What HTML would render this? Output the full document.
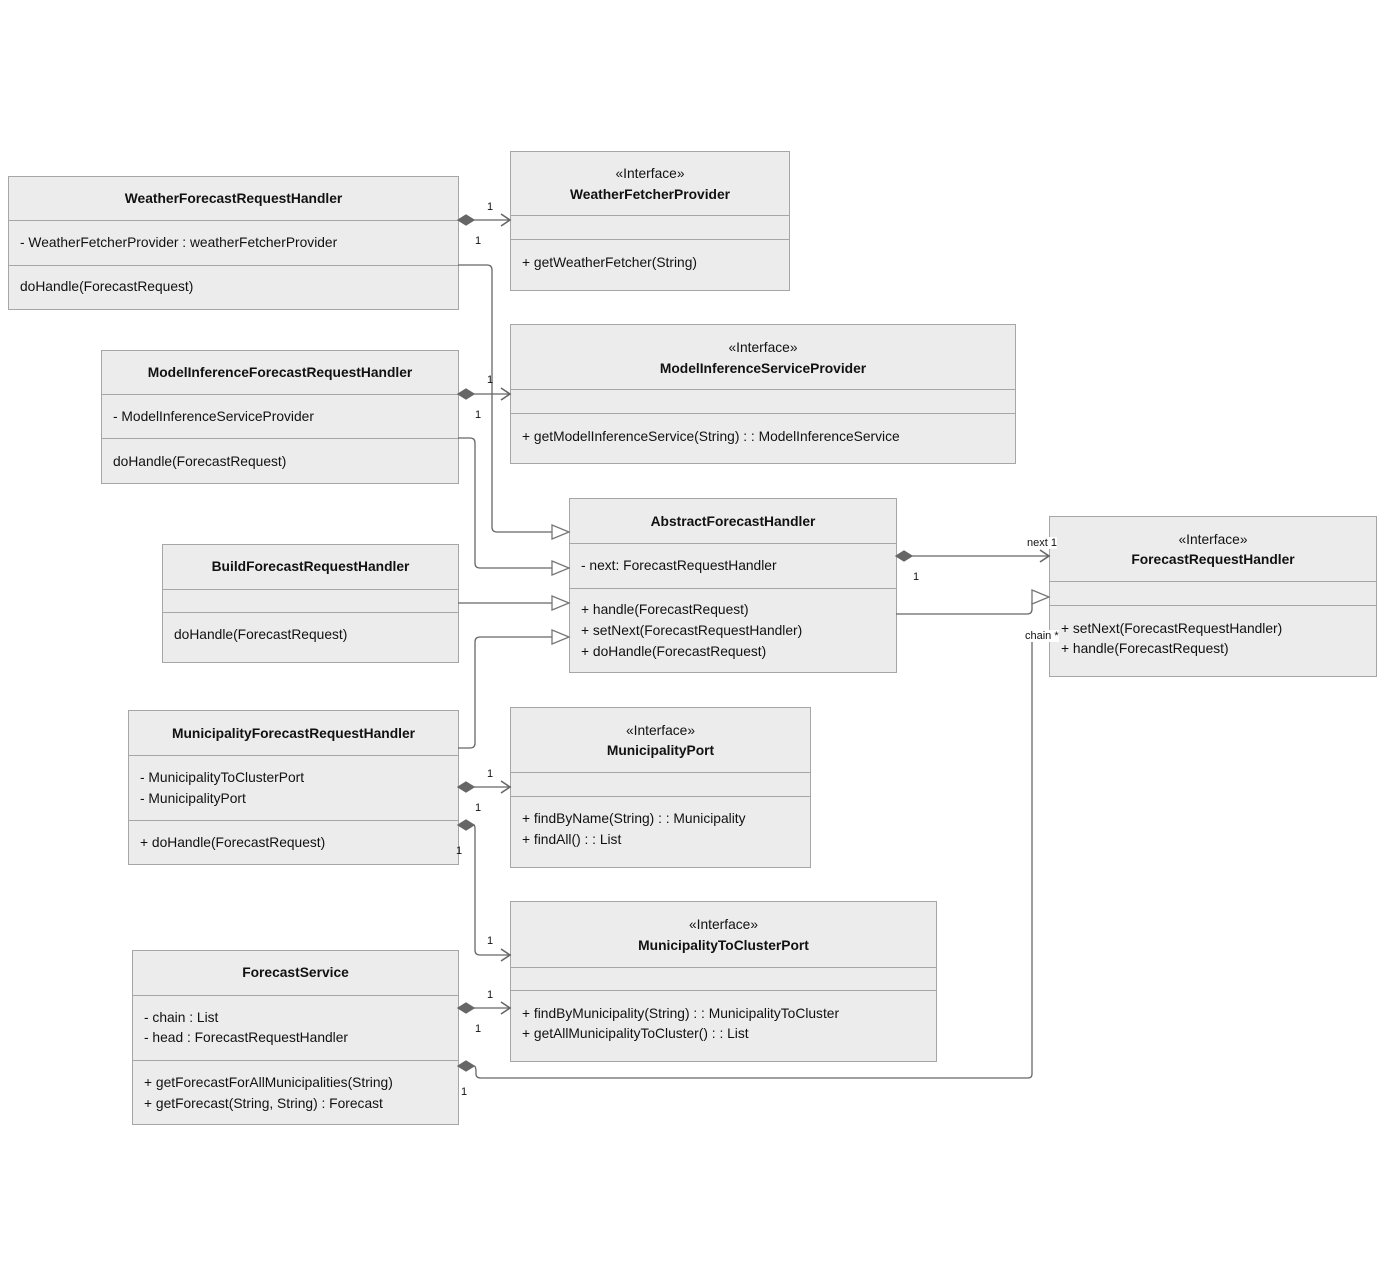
<!DOCTYPE html>
<html><head><meta charset="utf-8"><style>
body{margin:0;background:#fff;width:1384px;height:1276px;position:relative;overflow:hidden;font-family:"Liberation Sans",Arial,sans-serif;font-size:13.8px;color:#111}
.b{position:absolute;background:#ececec;border:1px solid #a6a6a6;box-sizing:border-box}
.t{position:absolute;white-space:nowrap;margin-top:-1px}
.c{text-align:center;left:0;right:0}
.bold{font-weight:bold}
.d{position:absolute;left:0;right:0;border-top:1px solid #a6a6a6}
svg{position:absolute;left:0;top:0}
.l{position:absolute;font-size:11px;white-space:nowrap}
</style></head><body>

<div class="b" style="left:8px;top:176px;width:451px;height:134px">
<div class="t c bold" style="top:15px">WeatherForecastRequestHandler</div>
<div class="d" style="top:43px"></div>
<div class="t" style="left:11px;top:59px">- WeatherFetcherProvider : weatherFetcherProvider</div>
<div class="d" style="top:88px"></div>
<div class="t" style="left:11px;top:103px">doHandle(ForecastRequest)</div>
</div>

<div class="b" style="left:510px;top:151px;width:280px;height:140px">
<div class="t c" style="top:15px">«Interface»</div>
<div class="t c bold" style="top:36px">WeatherFetcherProvider</div>
<div class="d" style="top:63px"></div>
<div class="d" style="top:87px"></div>
<div class="t" style="left:11px;top:104px">+ getWeatherFetcher(String)</div>
</div>

<div class="b" style="left:101px;top:350px;width:358px;height:134px">
<div class="t c bold" style="top:15px">ModelInferenceForecastRequestHandler</div>
<div class="d" style="top:43px"></div>
<div class="t" style="left:11px;top:59px">- ModelInferenceServiceProvider</div>
<div class="d" style="top:87px"></div>
<div class="t" style="left:11px;top:104px">doHandle(ForecastRequest)</div>
</div>

<div class="b" style="left:510px;top:324px;width:506px;height:140px">
<div class="t c" style="top:16px">«Interface»</div>
<div class="t c bold" style="top:37px">ModelInferenceServiceProvider</div>
<div class="d" style="top:64px"></div>
<div class="d" style="top:88px"></div>
<div class="t" style="left:11px;top:105px">+ getModelInferenceService(String) : : ModelInferenceService</div>
</div>

<div class="b" style="left:569px;top:498px;width:328px;height:175px">
<div class="t c bold" style="top:16px">AbstractForecastHandler</div>
<div class="d" style="top:44px"></div>
<div class="t" style="left:11px;top:60px">- next: ForecastRequestHandler</div>
<div class="d" style="top:89px"></div>
<div class="t" style="left:11px;top:104px">+ handle(ForecastRequest)</div>
<div class="t" style="left:11px;top:125px">+ setNext(ForecastRequestHandler)</div>
<div class="t" style="left:11px;top:146px">+ doHandle(ForecastRequest)</div>
</div>

<div class="b" style="left:162px;top:544px;width:297px;height:119px">
<div class="t c bold" style="top:15px">BuildForecastRequestHandler</div>
<div class="d" style="top:44px"></div>
<div class="d" style="top:67px"></div>
<div class="t" style="left:11px;top:83px">doHandle(ForecastRequest)</div>
</div>

<div class="b" style="left:1049px;top:516px;width:328px;height:161px">
<div class="t c" style="top:16px">«Interface»</div>
<div class="t c bold" style="top:36px">ForecastRequestHandler</div>
<div class="d" style="top:64px"></div>
<div class="d" style="top:88px"></div>
<div class="t" style="left:11px;top:105px">+ setNext(ForecastRequestHandler)</div>
<div class="t" style="left:11px;top:125px">+ handle(ForecastRequest)</div>
</div>

<div class="b" style="left:128px;top:710px;width:331px;height:155px">
<div class="t c bold" style="top:16px">MunicipalityForecastRequestHandler</div>
<div class="d" style="top:44px"></div>
<div class="t" style="left:11px;top:60px">- MunicipalityToClusterPort</div>
<div class="t" style="left:11px;top:81px">- MunicipalityPort</div>
<div class="d" style="top:109px"></div>
<div class="t" style="left:11px;top:125px">+ doHandle(ForecastRequest)</div>
</div>

<div class="b" style="left:510px;top:707px;width:301px;height:161px">
<div class="t c" style="top:16px">«Interface»</div>
<div class="t c bold" style="top:36px">MunicipalityPort</div>
<div class="d" style="top:64px"></div>
<div class="d" style="top:88px"></div>
<div class="t" style="left:11px;top:104px">+ findByName(String) : : Municipality</div>
<div class="t" style="left:11px;top:125px">+ findAll() : : List</div>
</div>

<div class="b" style="left:510px;top:901px;width:427px;height:161px">
<div class="t c" style="top:16px">«Interface»</div>
<div class="t c bold" style="top:37px">MunicipalityToClusterPort</div>
<div class="d" style="top:65px"></div>
<div class="d" style="top:88px"></div>
<div class="t" style="left:11px;top:105px">+ findByMunicipality(String) : : MunicipalityToCluster</div>
<div class="t" style="left:11px;top:125px">+ getAllMunicipalityToCluster() : : List</div>
</div>

<div class="b" style="left:132px;top:950px;width:327px;height:175px">
<div class="t c bold" style="top:15px">ForecastService</div>
<div class="d" style="top:44px"></div>
<div class="t" style="left:11px;top:60px">- chain : List</div>
<div class="t" style="left:11px;top:80px">- head : ForecastRequestHandler</div>
<div class="d" style="top:109px"></div>
<div class="t" style="left:11px;top:125px">+ getForecastForAllMunicipalities(String)</div>
<div class="t" style="left:11px;top:146px">+ getForecast(String, String) : Forecast</div>
</div>

<svg width="1384" height="1276" viewBox="0 0 1384 1276" fill="none" stroke="#666" stroke-width="1.3">
<defs>
<g id="dia"><path d="M0 0 L8 -5 L16 0 L8 5 Z" fill="#666" stroke="#666"/></g>
<g id="arr"><path d="M-9 -6 L0 0 L-9 6" stroke-width="1.6"/></g>
<g id="tri"><path d="M-17 -7 L0 0 L-17 7 Z" fill="#fff" stroke="#777"/></g>
</defs>
<path d="M474 220 H510"/><use href="#dia" x="458" y="220"/><use href="#arr" x="510" y="220"/>
<path d="M474 394 H510"/><use href="#dia" x="458" y="394"/><use href="#arr" x="510" y="394"/>
<path d="M474 787 H510"/><use href="#dia" x="458" y="787"/><use href="#arr" x="510" y="787"/>
<path d="M474 825 Q475 825 475 830 V950 Q475 955 480 955 H510"/><use href="#dia" x="458" y="825"/><use href="#arr" x="510" y="955"/>
<path d="M474 1008 H510"/><use href="#dia" x="458" y="1008"/><use href="#arr" x="510" y="1008"/>
<path d="M474 1066 Q476 1066 476 1072 V1074 Q476 1078 481 1078 H1028 Q1032 1078 1032 1074 V640"/><use href="#dia" x="458" y="1066"/>
<path d="M912 556 H1049"/><use href="#dia" x="896" y="556"/><use href="#arr" x="1049" y="556"/>
<path d="M458 265 H487 Q492 265 492 270 V527 Q492 532 497 532 H552"/><use href="#tri" x="569" y="532"/>
<path d="M458 438 H470 Q475 438 475 443 V563 Q475 568 480 568 H552"/><use href="#tri" x="569" y="568"/>
<path d="M458 603 H552"/><use href="#tri" x="569" y="603"/>
<path d="M458 748 H470 Q475 748 475 743 V642 Q475 637 480 637 H552"/><use href="#tri" x="569" y="637"/>
<path d="M896 614 H1027 Q1032 614 1032 609 V602 Q1032 597 1037 597"/><use href="#tri" x="1049" y="597"/>
</svg>

<div class="l" style="left:487px;top:201px">1</div>
<div class="l" style="left:475px;top:235px">1</div>
<div class="l" style="left:487px;top:374px">1</div>
<div class="l" style="left:475px;top:409px">1</div>
<div class="l" style="left:487px;top:768px">1</div>
<div class="l" style="left:475px;top:802px">1</div>
<div class="l" style="left:456px;top:845px">1</div>
<div class="l" style="left:487px;top:935px">1</div>
<div class="l" style="left:487px;top:989px">1</div>
<div class="l" style="left:475px;top:1023px">1</div>
<div class="l" style="left:461px;top:1086px">1</div>
<div class="l" style="left:913px;top:571px">1</div>
<div class="l" style="left:1027px;top:537px;background:#fff">next 1</div>
<div class="l" style="left:1025px;top:630px;background:#fff">chain *</div>
</body></html>
